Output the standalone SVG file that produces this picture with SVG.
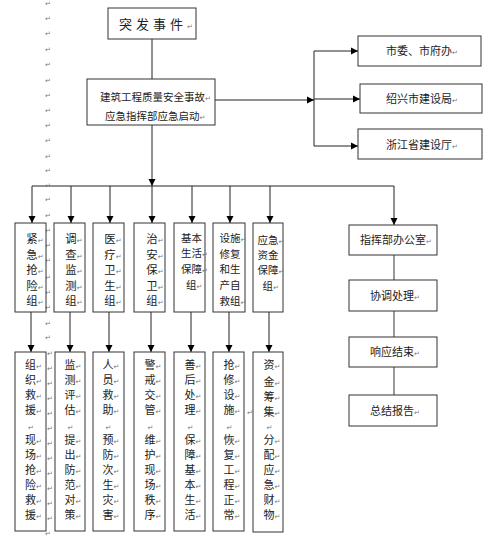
<svg xmlns="http://www.w3.org/2000/svg" width="500" height="543" viewBox="0 0 500 543">
<defs>
<marker id="arr" markerUnits="userSpaceOnUse" markerWidth="8" markerHeight="8" refX="7" refY="4" orient="auto">
<path d="M0,0.5 L7,4 L0,7.5 Z" fill="#000"/>
</marker>
<style>
.box{fill:#fff;stroke:#333;stroke-width:1}
.ln{fill:none;stroke:#222;stroke-width:1}
.gl{fill:none;stroke:#999;stroke-width:2}
.t{font-family:"Noto Sans CJK SC","Noto Sans CJK JP",sans-serif;fill:#222}
.c13{font-size:13px}
.c12{font-size:11.4px}
.c11{font-size:11px}
.c10{font-size:10.5px}
.m{font-family:"DejaVu Sans",sans-serif;font-size:7px;fill:#777}
</style>
</defs>
<rect width="500" height="543" fill="#fff"/>

<g id="connectors">
<line class="ln" x1="152" y1="39" x2="152" y2="79"/>
<line class="ln" x1="215" y1="100" x2="314" y2="100" marker-end="url(#arr)"/>
<line class="ln" x1="314" y1="51" x2="314" y2="146"/>
<line class="ln" x1="314" y1="51" x2="358" y2="51" marker-end="url(#arr)"/>
<line class="ln" x1="314" y1="99" x2="360" y2="99" marker-end="url(#arr)"/>
<line class="ln" x1="314" y1="146" x2="358" y2="146" marker-end="url(#arr)"/>
<line class="ln" x1="152" y1="125" x2="152" y2="186" marker-end="url(#arr)"/>
<line class="ln" x1="32" y1="186" x2="394" y2="186" stroke="#555"/>
<line class="ln" x1="32" y1="186" x2="32" y2="223" marker-end="url(#arr)"/>
<line class="ln" x1="71" y1="186" x2="71" y2="223" marker-end="url(#arr)"/>
<line class="ln" x1="110" y1="186" x2="110" y2="223" marker-end="url(#arr)"/>
<line class="ln" x1="152" y1="186" x2="152" y2="223" marker-end="url(#arr)"/>
<line class="ln" x1="192" y1="186" x2="192" y2="223" marker-end="url(#arr)"/>
<line class="ln" x1="230" y1="186" x2="230" y2="223" marker-end="url(#arr)"/>
<line class="ln" x1="270" y1="186" x2="270" y2="223" marker-end="url(#arr)"/>
<line class="ln" x1="394" y1="186" x2="394" y2="225" marker-end="url(#arr)"/>
<line class="ln" x1="31" y1="312" x2="31" y2="352" marker-end="url(#arr)"/>
<line class="ln" x1="70" y1="312" x2="70" y2="352" marker-end="url(#arr)"/>
<line class="ln" x1="109" y1="312" x2="109" y2="352" marker-end="url(#arr)"/>
<line class="ln" x1="151" y1="312" x2="151" y2="352" marker-end="url(#arr)"/>
<line class="ln" x1="191" y1="312" x2="191" y2="352" marker-end="url(#arr)"/>
<line class="ln" x1="229" y1="312" x2="229" y2="352" marker-end="url(#arr)"/>
<line class="ln" x1="269" y1="312" x2="269" y2="352" marker-end="url(#arr)"/>
<line class="gl" x1="394" y1="255" x2="394" y2="280"/>
<line class="gl" x1="394" y1="311" x2="394" y2="337"/>
<line class="gl" x1="394" y1="367" x2="394" y2="395"/>
</g>

<g id="marks">
<text class="m" x="45">
<tspan x="45" y="6">↵</tspan><tspan x="45" y="21">↵</tspan><tspan x="45" y="36">↵</tspan><tspan x="45" y="52">↵</tspan><tspan x="45" y="67">↵</tspan><tspan x="45" y="83">↵</tspan><tspan x="45" y="98">↵</tspan><tspan x="45" y="113">↵</tspan><tspan x="45" y="128">↵</tspan><tspan x="45" y="143">↵</tspan><tspan x="45" y="159">↵</tspan><tspan x="45" y="173">↵</tspan><tspan x="45" y="188">↵</tspan><tspan x="45" y="202">↵</tspan><tspan x="45" y="218">↵</tspan><tspan x="45" y="233">↵</tspan><tspan x="45" y="248">↵</tspan><tspan x="45" y="263">↵</tspan><tspan x="45" y="280">↵</tspan><tspan x="45" y="295">↵</tspan><tspan x="45" y="310">↵</tspan><tspan x="45" y="326">↵</tspan><tspan x="45" y="340">↵</tspan><tspan x="47" y="356">↵</tspan><tspan x="47" y="371">↵</tspan><tspan x="47" y="386">↵</tspan><tspan x="47" y="401">↵</tspan><tspan x="47" y="416">↵</tspan><tspan x="47" y="431">↵</tspan><tspan x="47" y="446">↵</tspan><tspan x="47" y="461">↵</tspan><tspan x="47" y="476">↵</tspan><tspan x="47" y="491">↵</tspan><tspan x="47" y="506">↵</tspan><tspan x="47" y="521">↵</tspan><tspan x="45" y="536">↵</tspan>
</text>
<text class="m" x="247" y="415">↵</text>
</g>

<g id="n-event">
<rect class="box" x="108" y="8" width="88" height="31"/>
<text class="t c13" x="119" y="29" letter-spacing="4">突发事件<tspan class="m">↵</tspan></text>
</g>

<g id="n-command">
<rect class="box" x="87" y="79" width="128" height="46"/>
<text class="t c10" x="100" y="101">建筑工程质量安全事故<tspan class="m">↵</tspan></text>
<text class="t c10" x="105" y="120">应急指挥部应急启动<tspan class="m">↵</tspan></text>
</g>

<g id="n-city">
<rect class="box" x="358" y="36" width="123" height="30"/>
<text class="t c11" x="386" y="55">市委、市府办<tspan class="m">↵</tspan></text>
</g>
<g id="n-bureau">
<rect class="box" x="360" y="84" width="122" height="29"/>
<text class="t c11" x="386" y="103">绍兴市建设局<tspan class="m">↵</tspan></text>
</g>
<g id="n-province">
<rect class="box" x="358" y="129" width="124" height="30"/>
<text class="t c11" x="386" y="149">浙江省建设厅<tspan class="m">↵</tspan></text>
</g>

<g id="n-g1">
<rect class="box" x="15" y="223" width="31" height="89"/>
<text class="t c12"><tspan x="26.3" y="243">紧<tspan class="m">↵</tspan></tspan><tspan x="26.3" y="259">急<tspan class="m">↵</tspan></tspan><tspan x="26.3" y="274">抢<tspan class="m">↵</tspan></tspan><tspan x="26.3" y="290">险<tspan class="m">↵</tspan></tspan><tspan x="26.3" y="305">组<tspan class="m">↵</tspan></tspan></text>
</g>
<g id="n-g2">
<rect class="box" x="54" y="223" width="31" height="89"/>
<text class="t c12"><tspan x="65.3" y="243">调<tspan class="m">↵</tspan></tspan><tspan x="65.3" y="259">查<tspan class="m">↵</tspan></tspan><tspan x="65.3" y="274">监<tspan class="m">↵</tspan></tspan><tspan x="65.3" y="290">测<tspan class="m">↵</tspan></tspan><tspan x="65.3" y="305">组<tspan class="m">↵</tspan></tspan></text>
</g>
<g id="n-g3">
<rect class="box" x="93" y="223" width="31" height="89"/>
<text class="t c12"><tspan x="104.3" y="243">医<tspan class="m">↵</tspan></tspan><tspan x="104.3" y="259">疗<tspan class="m">↵</tspan></tspan><tspan x="104.3" y="274">卫<tspan class="m">↵</tspan></tspan><tspan x="104.3" y="290">生<tspan class="m">↵</tspan></tspan><tspan x="104.3" y="305">组<tspan class="m">↵</tspan></tspan></text>
</g>
<g id="n-g4">
<rect class="box" x="134" y="223" width="31" height="89"/>
<text class="t c12"><tspan x="146.3" y="243">治<tspan class="m">↵</tspan></tspan><tspan x="146.3" y="259">安<tspan class="m">↵</tspan></tspan><tspan x="146.3" y="274">保<tspan class="m">↵</tspan></tspan><tspan x="146.3" y="290">卫<tspan class="m">↵</tspan></tspan><tspan x="146.3" y="305">组<tspan class="m">↵</tspan></tspan></text>
</g>
<g id="n-g5">
<rect class="box" x="174" y="223" width="31" height="89"/>
<text class="t c10"><tspan x="181" y="242">基本</tspan><tspan x="181" y="257">生活<tspan class="m">↵</tspan></tspan><tspan x="181" y="273">保障<tspan class="m">↵</tspan></tspan><tspan x="186" y="289">组<tspan class="m">↵</tspan></tspan></text>
</g>
<g id="n-g6">
<rect class="box" x="213" y="223" width="32" height="89"/>
<text class="t c10"><tspan x="219.5" y="242">设施<tspan class="m">↵</tspan></tspan><tspan x="219.5" y="258">修复</tspan><tspan x="219.5" y="273">和生</tspan><tspan x="219.5" y="289">产自</tspan><tspan x="219.5" y="305">救组<tspan class="m">↵</tspan></tspan></text>
</g>
<g id="n-g7">
<rect class="box" x="253" y="223" width="30" height="89"/>
<text class="t c10"><tspan x="257.5" y="244">应急<tspan class="m">↵</tspan></tspan><tspan x="257.5" y="259">资金</tspan><tspan x="257.5" y="274">保障<tspan class="m">↵</tspan></tspan><tspan x="262.5" y="290">组<tspan class="m">↵</tspan></tspan></text>
</g>

<g id="n-office">
<rect class="box" x="349" y="225" width="88" height="30"/>
<text class="t c11" x="360" y="244">指挥部办公室<tspan class="m">↵</tspan></text>
</g>
<g id="n-coord">
<rect class="box" x="349" y="280" width="88" height="31"/>
<text class="t c11" x="370" y="300">协调处理<tspan class="m">↵</tspan></text>
</g>
<g id="n-end">
<rect class="box" x="349" y="337" width="88" height="30"/>
<text class="t c11" x="370" y="356">响应结束<tspan class="m">↵</tspan></text>
</g>
<g id="n-report">
<rect class="box" x="349" y="395" width="88" height="31"/>
<text class="t c11" x="370" y="415">总结报告<tspan class="m">↵</tspan></text>
</g>

<g id="n-b1">
<rect class="box" x="15" y="352" width="31" height="179"/>
<text class="t c11"><tspan x="25" y="369">组<tspan class="m">↵</tspan></tspan><tspan x="25" y="384">织<tspan class="m">↵</tspan></tspan><tspan x="25" y="399">救<tspan class="m">↵</tspan></tspan><tspan x="25" y="414">援<tspan class="m">↵</tspan></tspan><tspan class="m" x="28" y="430">↵</tspan><tspan x="25" y="444">现<tspan class="m">↵</tspan></tspan><tspan x="25" y="459">场<tspan class="m">↵</tspan></tspan><tspan x="25" y="474">抢<tspan class="m">↵</tspan></tspan><tspan x="25" y="489">险<tspan class="m">↵</tspan></tspan><tspan x="25" y="504">救<tspan class="m">↵</tspan></tspan><tspan x="25" y="519">援<tspan class="m">↵</tspan></tspan></text>
</g>
<g id="n-b2">
<rect class="box" x="55" y="352" width="30" height="179"/>
<text class="t c11"><tspan x="64.5" y="369">监<tspan class="m">↵</tspan></tspan><tspan x="64.5" y="384">测<tspan class="m">↵</tspan></tspan><tspan x="64.5" y="399">评<tspan class="m">↵</tspan></tspan><tspan x="64.5" y="414">估<tspan class="m">↵</tspan></tspan><tspan class="m" x="67.5" y="430">↵</tspan><tspan x="64.5" y="444">提<tspan class="m">↵</tspan></tspan><tspan x="64.5" y="459">出<tspan class="m">↵</tspan></tspan><tspan x="64.5" y="474">防<tspan class="m">↵</tspan></tspan><tspan x="64.5" y="489">范<tspan class="m">↵</tspan></tspan><tspan x="64.5" y="504">对<tspan class="m">↵</tspan></tspan><tspan x="64.5" y="519">策<tspan class="m">↵</tspan></tspan></text>
</g>
<g id="n-b3">
<rect class="box" x="93" y="352" width="31" height="179"/>
<text class="t c11"><tspan x="102.5" y="369">人<tspan class="m">↵</tspan></tspan><tspan x="102.5" y="384">员<tspan class="m">↵</tspan></tspan><tspan x="102.5" y="399">救<tspan class="m">↵</tspan></tspan><tspan x="102.5" y="414">助<tspan class="m">↵</tspan></tspan><tspan class="m" x="105.5" y="430">↵</tspan><tspan x="102.5" y="444">预<tspan class="m">↵</tspan></tspan><tspan x="102.5" y="459">防<tspan class="m">↵</tspan></tspan><tspan x="102.5" y="474">次<tspan class="m">↵</tspan></tspan><tspan x="102.5" y="489">生<tspan class="m">↵</tspan></tspan><tspan x="102.5" y="504">灾<tspan class="m">↵</tspan></tspan><tspan x="102.5" y="519">害<tspan class="m">↵</tspan></tspan></text>
</g>
<g id="n-b4">
<rect class="box" x="134" y="352" width="31" height="179"/>
<text class="t c11"><tspan x="144.5" y="369">警<tspan class="m">↵</tspan></tspan><tspan x="144.5" y="384">戒<tspan class="m">↵</tspan></tspan><tspan x="144.5" y="399">交<tspan class="m">↵</tspan></tspan><tspan x="144.5" y="414">管<tspan class="m">↵</tspan></tspan><tspan class="m" x="147.5" y="430">↵</tspan><tspan x="144.5" y="444">维<tspan class="m">↵</tspan></tspan><tspan x="144.5" y="459">护<tspan class="m">↵</tspan></tspan><tspan x="144.5" y="474">现<tspan class="m">↵</tspan></tspan><tspan x="144.5" y="489">场<tspan class="m">↵</tspan></tspan><tspan x="144.5" y="504">秩<tspan class="m">↵</tspan></tspan><tspan x="144.5" y="519">序<tspan class="m">↵</tspan></tspan></text>
</g>
<g id="n-b5">
<rect class="box" x="174" y="352" width="31" height="179"/>
<text class="t c11"><tspan x="184.5" y="369">善<tspan class="m">↵</tspan></tspan><tspan x="184.5" y="384">后<tspan class="m">↵</tspan></tspan><tspan x="184.5" y="399">处<tspan class="m">↵</tspan></tspan><tspan x="184.5" y="414">理<tspan class="m">↵</tspan></tspan><tspan class="m" x="187.5" y="430">↵</tspan><tspan x="184.5" y="444">保<tspan class="m">↵</tspan></tspan><tspan x="184.5" y="459">障<tspan class="m">↵</tspan></tspan><tspan x="184.5" y="474">基<tspan class="m">↵</tspan></tspan><tspan x="184.5" y="489">本<tspan class="m">↵</tspan></tspan><tspan x="184.5" y="504">生<tspan class="m">↵</tspan></tspan><tspan x="184.5" y="519">活<tspan class="m">↵</tspan></tspan></text>
</g>
<g id="n-b6">
<rect class="box" x="213" y="352" width="31" height="179"/>
<text class="t c11"><tspan x="223.5" y="369">抢<tspan class="m">↵</tspan></tspan><tspan x="223.5" y="384">修<tspan class="m">↵</tspan></tspan><tspan x="223.5" y="399">设<tspan class="m">↵</tspan></tspan><tspan x="223.5" y="414">施<tspan class="m">↵</tspan></tspan><tspan class="m" x="226.5" y="430">↵</tspan><tspan x="223.5" y="444">恢<tspan class="m">↵</tspan></tspan><tspan x="223.5" y="459">复<tspan class="m">↵</tspan></tspan><tspan x="223.5" y="474">工<tspan class="m">↵</tspan></tspan><tspan x="223.5" y="489">程<tspan class="m">↵</tspan></tspan><tspan x="223.5" y="504">正<tspan class="m">↵</tspan></tspan><tspan x="223.5" y="519">常<tspan class="m">↵</tspan></tspan></text>
</g>
<g id="n-b7">
<rect class="box" x="253" y="352" width="30" height="180"/>
<text class="t c11"><tspan x="263.5" y="369">资<tspan class="m">↵</tspan></tspan><tspan x="263.5" y="386">金<tspan class="m">↵</tspan></tspan><tspan x="263.5" y="401">筹<tspan class="m">↵</tspan></tspan><tspan x="263.5" y="416">集<tspan class="m">↵</tspan></tspan><tspan class="m" x="266.5" y="430">↵</tspan><tspan x="263.5" y="444">分<tspan class="m">↵</tspan></tspan><tspan x="263.5" y="459">配<tspan class="m">↵</tspan></tspan><tspan x="263.5" y="474">应<tspan class="m">↵</tspan></tspan><tspan x="263.5" y="489">急<tspan class="m">↵</tspan></tspan><tspan x="263.5" y="504">财<tspan class="m">↵</tspan></tspan><tspan x="263.5" y="519">物<tspan class="m">↵</tspan></tspan></text>
</g>
</svg>
